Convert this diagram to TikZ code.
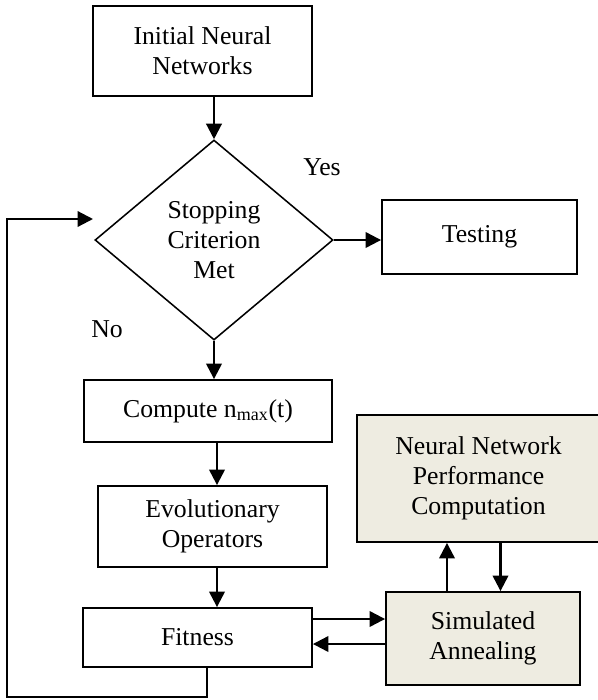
\documentclass[tikz,border=0pt]{standalone}
\usepackage{fontspec}
\setmainfont{Liberation Serif}
\usepackage{xcolor}
\definecolor{annealtan}{RGB}{238,236,225}
\usetikzlibrary{shapes,arrows.meta,positioning,calc}

\tikzset{
  procbox/.style={draw, line width=1.3pt, rectangle, align=center, inner sep=0pt},
  tanbox/.style={procbox, fill=annealtan},
  decision/.style={draw, line width=1.1pt, diamond, align=center, inner sep=0pt},
  flow/.style={line width=1.6pt, -{Triangle[length=11pt, width=11pt]}},
  plainline/.style={line width=1.6pt}
}

\begin{document}
\begin{tikzpicture}[x=0.025cm, y=-0.025cm, font=\fontsize{18.3}{21.3}\selectfont]
            \useasboundingbox (0,0) rectangle (598,700);

            % main column
            \node[procbox, minimum width=5.475cm, minimum height=2.25cm] (init) at (202.5,51) {Initial Neural\\Networks};
            \node[decision, minimum width=5.95cm, minimum height=5cm] (stopcrit) at (214,240) {Stopping\\Criterion\\Met};
            \node[procbox, minimum width=6.2cm, minimum height=1.55cm] (nmax) at (208,411) {Compute n\textsubscript{max}(t)};
            \node[procbox, minimum width=5.725cm, minimum height=2.025cm] (evoops) at (212.5,526.5) {Evolutionary\\Operators};
            \node[procbox, minimum width=5.725cm, minimum height=1.475cm] (fitness) at (197.5,637.5) {Fitness};

            % right side
            \node[procbox, minimum width=4.875cm, minimum height=1.85cm] (testing) at (479.5,237) {Testing};
            \node[tanbox, minimum width=6.075cm, minimum height=3.175cm] (nnperf) at (478.5,478.5) {Neural Network\\Performance\\Computation};
            \node[tanbox, minimum width=4.85cm, minimum height=2.325cm] (simann) at (483,638.5) {Simulated\\Annealing};

            % labels
            \node (yeslbl) at (322,167) {Yes};
            \node (nolbl) at (107,329) {No};

            % connectors
            \draw[flow] (init.south -| stopcrit.north) -- (stopcrit.north);
            \draw[flow] (stopcrit.east) -- (stopcrit.east -| testing.west);
            \draw[flow] (stopcrit.south) -- (stopcrit.south |- nmax.north);
            \draw[flow] ([xshift=0.225cm]nmax.south) -- ([xshift=0.225cm]nmax.south |- evoops.north);
            \draw[flow] ([xshift=0.1125cm]evoops.south) -- ([xshift=0.1125cm]evoops.south |- fitness.north);
            \draw[flow] ([yshift=0.4625cm]fitness.east) -- ([yshift=0.4625cm]fitness.east -| simann.west);
            \draw[flow] ([yshift=-0.1375cm]simann.west) -- ([yshift=-0.1375cm]simann.west -| fitness.east);
            \draw[flow] ([xshift=-0.9cm]simann.north) -- ([xshift=-0.9cm]simann.north |- nnperf.south);
            \draw[flow] ([xshift=0.55cm]nnperf.south) -- ([xshift=0.55cm]nnperf.south |- simann.north);

            % loop back
            \coordinate (loopcorner) at (7,697);
            \coordinate (looptip) at (93,219);
            \draw[flow] ([xshift=0.2375cm]fitness.south) |- (loopcorner) |- (looptip);
        \end{tikzpicture}
\end{document}
